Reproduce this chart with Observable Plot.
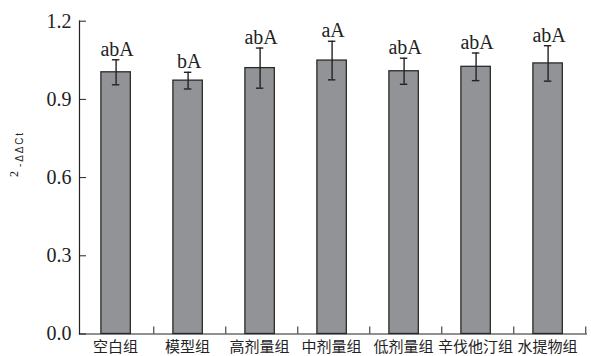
<!DOCTYPE html>
<html>
<head>
<meta charset="utf-8">
<script src="https://cdn.jsdelivr.net/npm/d3@7"></script>
<script src="https://cdn.jsdelivr.net/npm/@observablehq/plot@0.6"></script>
<style>
  html, body { margin: 0; padding: 0; background: #fff; }
</style>
</head>
<body>
<div id="chart"></div>
<script>
// Relative expression (2^-ΔΔCt) per treatment group
const groups = ["空白组", "模型组", "高剂量组", "中剂量组", "低剂量组", "辛伐他汀组", "水提物组"];
const means = [1.004, 0.972, 1.020, 1.049, 1.008, 1.025, 1.038];
const errors = [0.048, 0.032, 0.077, 0.074, 0.050, 0.053, 0.068];
const letters = ["abA", "bA", "abA", "aA", "abA", "abA", "abA"];
const yTicks = [0, 0.3, 0.6, 0.9, 1.2];

const rows = groups.map((g, i) => ({group: g, mean: means[i], err: errors[i], sig: letters[i]}));

const W = 591, H = 356;
const mL = 79, mR = 4, mT = 20.7, mB = 22.5;
const bw = (W - mL - mR) / groups.length;   // band width (no padding)
const barW = 30, capW = 8, shift = -1.4;
const serif = "'Liberation Serif', 'Times New Roman', serif";
const cjk = "'Noto Sans CJK SC', sans-serif";

const chart = Plot.plot({
  width: W, height: H,
  marginLeft: mL, marginRight: mR, marginTop: mT, marginBottom: mB,
  x: {domain: groups, padding: 0, label: null},
  y: {domain: [0, 1.2], label: null},
  style: {fontFamily: serif, color: "#222", background: "#fff"},
  marks: [
    Plot.barY(rows, {
      x: "group", y: "mean",
      insetLeft: (bw - barW) / 2 + shift, insetRight: (bw - barW) / 2 - shift,
      fill: "#929397", stroke: "#2a2a2a", strokeWidth: 1.3
    }),
    // error bars
    Plot.ruleX(rows, {
      x: "group", y1: d => d.mean - d.err, y2: d => d.mean + d.err,
      dx: shift, stroke: "#222", strokeWidth: 1.4
    }),
    Plot.tickY(rows, {
      x: "group", y: d => d.mean + d.err,
      insetLeft: (bw - capW) / 2 + shift, insetRight: (bw - capW) / 2 - shift,
      stroke: "#222", strokeWidth: 1.4
    }),
    Plot.tickY(rows, {
      x: "group", y: d => d.mean - d.err,
      insetLeft: (bw - capW) / 2 + shift, insetRight: (bw - capW) / 2 - shift,
      stroke: "#222", strokeWidth: 1.4
    }),
    // significance letters
    Plot.text(rows, {
      x: "group", y: d => d.mean + d.err, text: "sig",
      lineAnchor: "bottom", dy: -4, dx: shift + 1,
      fontSize: 20, fontFamily: serif, fill: "#222"
    }),
    // axes
    Plot.frame({anchor: "left", stroke: "#222", strokeWidth: 1.2}),
    Plot.ruleY([0], {stroke: "#222", strokeWidth: 1.2}),
    Plot.axisY(yTicks, {
      tickSize: -7, tickPadding: 15, tickFormat: d3.format(".1f"),
      fontSize: 20, fontFamily: serif, stroke: "#222", label: null
    }),
    Plot.axisX({
      tickSize: -7, dx: bw / 2, tickFormat: () => "", stroke: "#222", label: null
    }),
    Plot.axisX({
      tickSize: 0, tickPadding: 7, dx: -2, fontSize: 15, fontFamily: cjk, fill: "#222", label: null
    })
  ]
});

// y-axis title: 2 with superscript -ΔΔCt, turned to read bottom-to-top
const svg = d3.select(chart);
const title = svg.append("g").attr("fill", "#222").attr("text-anchor", "start");
title.append("text")
  .attr("transform", "matrix(0,-1,1,0,18,177)")
  .attr("font-family", serif).attr("font-size", 12)
  .text("2");
title.append("text")
  .attr("transform", "matrix(0,-1,1,0,23,167)")
  .attr("font-family", "'Liberation Sans', sans-serif").attr("font-size", 10)
  .attr("textLength", 34).attr("lengthAdjust", "spacing")
  .text("-ΔΔCt");

document.getElementById("chart").append(chart);
</script>
</body>
</html>
